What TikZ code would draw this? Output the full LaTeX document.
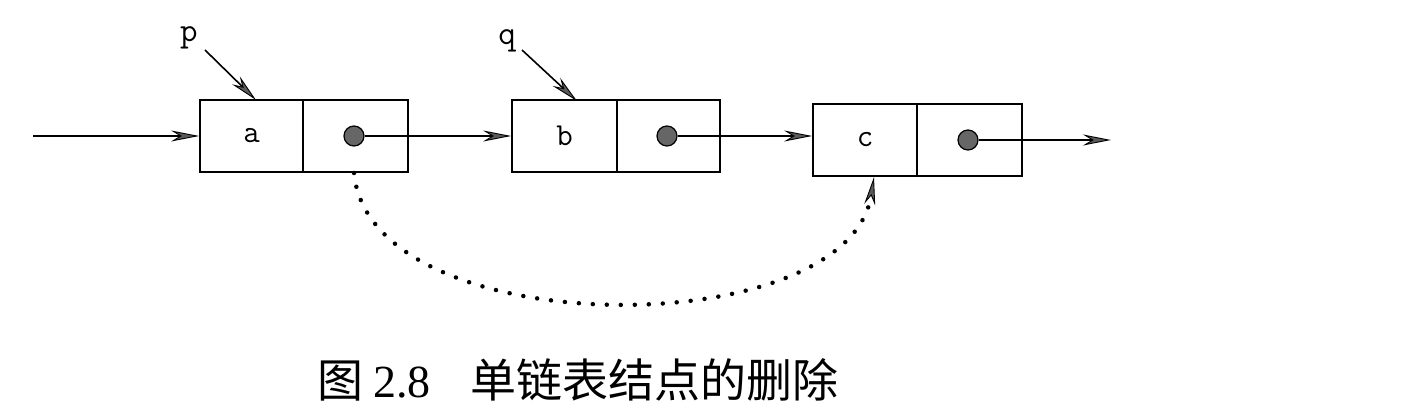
\documentclass[tikz,border=0pt]{standalone}
\usepackage{fontspec}
\setmainfont{Liberation Serif}
\newfontfamily\cjk{Noto Sans CJK SC}
\usetikzlibrary{arrows.meta}
\begin{document}
\begin{tikzpicture}[x=1pt,y=-1pt,
  tip/.tip={Stealth[length=28pt,width=11pt,inset=9pt,line width=0.9pt,fill=gray!70!black]},
  cell/.style={draw,line width=1.8pt,rectangle,inner sep=0pt,minimum height=72pt,font=\ttfamily\fontsize{32}{32}\selectfont},
  ptr/.style={circle,draw,line width=1.2pt,fill=gray!80!black,minimum size=20pt,inner sep=0pt},
  arr/.style={line width=1.6pt,-tip},
  lbl/.style={font=\ttfamily\fontsize{34}{34}\selectfont,inner sep=0pt}]
\useasboundingbox (0,0) rectangle (1417,419);
% node a
\node[cell,minimum width=103pt] (a1) at (251.5,136) {a};
\node[cell,minimum width=105pt] (a2) at (355.5,136) {};
\node[ptr] (pa) at (354,136) {};
% node b
\node[cell,minimum width=105pt] (b1) at (564.5,136) {b};
\node[cell,minimum width=103pt] (b2) at (668.5,136) {};
\node[ptr] (pb) at (667,136) {};
% node c
\node[cell,minimum width=104pt] (c1) at (865,140) {c};
\node[cell,minimum width=105pt] (c2) at (969.5,140) {};
\node[ptr] (pc) at (968,140) {};
% labels
\node[lbl] (p) at (189,38) {p};
\node[lbl] (q) at (507,41) {q};
\coordinate (in) at (33,136);
\coordinate (out) at (1111,140);
\coordinate (pe) at (256,100);
\coordinate (qe) at (577,101);
\coordinate (ps) at (205,50);
\coordinate (qs) at (522,50);
% connectors
\draw[arr] (in) -- (a1.west);
\draw[arr] (pa.east) -- (b1.west |- pa.east);
\draw[arr] (pb.east) -- (c1.west |- pb.east);
\draw[arr] (pc.east) -- (out);
\draw[arr] (ps) -- (pe);
\draw[arr] (qs) -- (qe);
% deletion path
\coordinate (ds) at (354,173);
\coordinate (de) at (874,177);
\draw[line width=4.5pt,line cap=round,dash pattern=on 0pt off 14pt,-tip]
  (ds) .. controls (370,345) and (848,345) .. (de);
% caption
\node[anchor=west,inner sep=0pt,font=\fontsize{46}{46}\selectfont] (cap) at (317,380)
  {{\cjk 图}\hspace{10pt}2.8\hspace{40pt}{\cjk 单链表结点的删除}};
\end{tikzpicture}
\end{document}
